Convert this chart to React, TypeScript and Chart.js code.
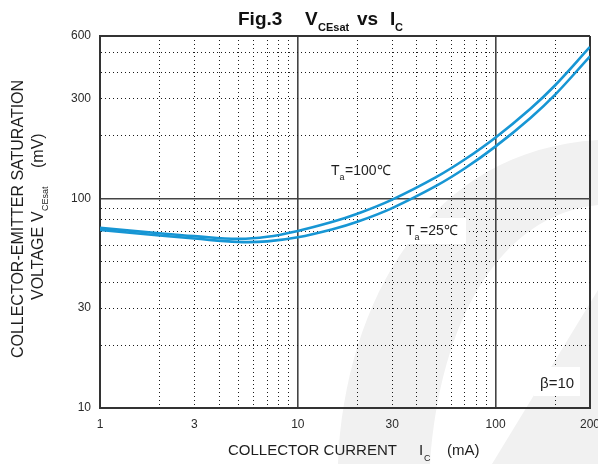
import { useEffect, useRef } from 'react';
import { Chart, registerables } from 'chart.js';

Chart.register(...registerables);

// ---- data ----
const currentMA = [1, 2, 3, 5, 7, 10, 15, 20, 30, 50, 70, 100, 150, 200, 300];
const vce100C = [72.6, 68.4, 66.3, 64.3, 65.8, 70.2, 77.6, 84.8, 99.1, 126.9, 154.5, 196.5, 269.6, 349, 532];
const vce25C = [71.0, 66.8, 64.6, 62.2, 62.6, 65.5, 71.6, 77.7, 90.3, 115.2, 139.9, 178, 243.6, 314.8, 479.7];

const xGridValues = [1, 2, 3, 4, 5, 6, 7, 8, 9, 10, 20, 30, 40, 50, 60, 70, 80, 90, 100, 200, 300];
const xMajorValues = [10, 100];
const xTickValues = [1, 3, 10, 30, 100, 300];
const xTickLabels = ['1', '3', '10', '30', '100', '200'];

const yGridValues = [10, 20, 30, 40, 50, 60, 70, 80, 90, 100, 200, 300, 400, 500, 600];
const yMajorValues = [100];
const yTickValues = [10, 30, 100, 300, 600];
const yTickLabels = ['10', '30', '100', '300', '600'];

const X_MIN = 1;
const X_MAX = 300;
const Y_MIN = 10;
const Y_MAX = 600;

const FONT = '"Liberation Sans", Arial, Helvetica, sans-serif';
const LINE_BLUE = '#1796d4';

type Run = { t: string; x: number; size: number; bold?: boolean; dy?: number };

function drawRuns(ctx: CanvasRenderingContext2D, y: number, runs: Run[], color = '#1e1e1e') {
  ctx.fillStyle = color;
  ctx.textBaseline = 'alphabetic';
  ctx.textAlign = 'left';
  for (const r of runs) {
    ctx.font = `${r.bold ? 'bold ' : ''}${r.size}px ${FONT}`;
    ctx.fillText(r.t, r.x, y + (r.dy || 0));
  }
}

const watermarkPlugin = {
  id: 'watermark',
  beforeDraw(chart: any) {
    const ctx: CanvasRenderingContext2D = chart.ctx;
    ctx.save();
    ctx.fillStyle = '#f1f1f1';
    ctx.beginPath();
    ctx.moveTo(338, 464);
    ctx.bezierCurveTo(345, 300, 430, 150, 598, 140);
    ctx.lineTo(598, 205);
    ctx.bezierCurveTo(500, 215, 440, 320, 430, 464);
    ctx.closePath();
    ctx.fill();
    ctx.beginPath();
    ctx.moveTo(492, 464);
    ctx.lineTo(598, 290);
    ctx.lineTo(598, 464);
    ctx.closePath();
    ctx.fill();
    ctx.restore();
  },
};

const labelBoxesPlugin = {
  id: 'labelBoxes',
  beforeDatasetsDraw(chart: any) {
    const ctx: CanvasRenderingContext2D = chart.ctx;
    ctx.save();
    ctx.fillStyle = '#ffffff';
    ctx.fillRect(328, 157, 71, 27);
    ctx.fillRect(401, 218, 65, 26);
    ctx.fillRect(534, 367, 46, 29);
    ctx.restore();
  },
};

const textPlugin = {
  id: 'texts',
  afterDraw(chart: any) {
    const ctx: CanvasRenderingContext2D = chart.ctx;
    ctx.save();
    drawRuns(ctx, 25, [
      { t: 'Fig.3', x: 238, size: 19, bold: true },
      { t: 'V', x: 305, size: 19, bold: true },
      { t: 'CEsat', x: 318, size: 11, bold: true, dy: 6 },
      { t: 'vs', x: 357, size: 19, bold: true },
      { t: 'I', x: 390, size: 19, bold: true },
      { t: 'C', x: 395, size: 11, bold: true, dy: 6 },
    ], '#111');

    drawRuns(ctx, 455, [
      { t: 'COLLECTOR CURRENT', x: 228, size: 15 },
      { t: 'I', x: 419, size: 15 },
      { t: 'C', x: 424, size: 9, dy: 6 },
      { t: '(mA)', x: 447, size: 15 },
    ]);

    ctx.fillStyle = '#1e1e1e';
    ctx.textBaseline = 'alphabetic';
    ctx.save();
    ctx.translate(23, 219);
    ctx.rotate(-Math.PI / 2);
    ctx.font = `16px ${FONT}`;
    ctx.textAlign = 'center';
    ctx.fillText('COLLECTOR-EMITTER SATURATION', 0, 0);
    ctx.restore();

    ctx.save();
    ctx.translate(43, 300);
    ctx.rotate(-Math.PI / 2);
    ctx.textAlign = 'left';
    const line2: Run[] = [
      { t: 'VOLTAGE', x: 0, size: 16 },
      { t: 'V', x: 78, size: 16 },
      { t: 'CEsat', x: 89, size: 9, dy: 5 },
      { t: '(mV)', x: 132, size: 16 },
    ];
    for (const r of line2) {
      ctx.font = `${r.size}px ${FONT}`;
      ctx.fillText(r.t, r.x, r.dy || 0);
    }
    ctx.restore();

    drawRuns(ctx, 175, [
      { t: 'T', x: 331, size: 14 },
      { t: 'a', x: 339.5, size: 9, dy: 5 },
      { t: '=100\u2103', x: 345, size: 14 },
    ]);
    drawRuns(ctx, 235, [
      { t: 'T', x: 406, size: 14 },
      { t: 'a', x: 414.5, size: 9, dy: 5 },
      { t: '=25\u2103', x: 420, size: 14 },
    ]);
    drawRuns(ctx, 388, [{ t: '\u03b2=10', x: 540, size: 15 }]);
    ctx.restore();
  },
};

function gridOpts(edges: number[], majors: number[]) {
  const kind = (c: any) => {
    const v = c.tick ? c.tick.value : undefined;
    if (v === undefined) return 'none';
    if (edges.includes(v)) return 'edge';
    if (majors.includes(v)) return 'major';
    return 'minor';
  };
  return {
    grid: {
      drawTicks: false,
      color: (c: any) => {
        const k = kind(c);
        return k === 'edge' ? '#333333' : k === 'major' ? '#444444' : '#1a1a1a';
      },
      lineWidth: (c: any) => {
        const k = kind(c);
        return k === 'edge' ? 2 : k === 'major' ? 1.6 : 1;
      },
    },
    border: {
      color: '#333333',
      width: 2,
      dash: (c: any) => (kind(c) === 'minor' ? [1, 3] : []),
    },
  };
}

export default function App() {
  const canvasRef = useRef<HTMLCanvasElement | null>(null);

  useEffect(() => {
    document.body.style.margin = '0';
    const canvas = canvasRef.current;
    if (!canvas) return;

    const xg = gridOpts([X_MIN, X_MAX], xMajorValues);
    const yg = gridOpts([Y_MIN, Y_MAX], yMajorValues);

    const lineStyle = {
      borderColor: LINE_BLUE,
      borderWidth: 2.6,
      pointRadius: 0,
      tension: 0.4,
      fill: false,
    };

    const chart = new Chart(canvas, {
      type: 'line',
      data: {
        datasets: [
          {
            label: 'Ta=100℃',
            data: currentMA.map((x, i) => ({ x, y: vce100C[i] })),
            ...lineStyle,
          },
          {
            label: 'Ta=25℃',
            data: currentMA.map((x, i) => ({ x, y: vce25C[i] })),
            ...lineStyle,
          },
        ],
      },
      options: {
        responsive: false,
        animation: false,
        events: [],
        layout: { padding: { left: 0, right: 8, top: 36, bottom: 0 } },
        plugins: {
          legend: { display: false },
          title: { display: false },
          tooltip: { enabled: false },
        },
        scales: {
          x: {
            type: 'logarithmic',
            min: X_MIN,
            max: X_MAX,
            ...xg,
            afterBuildTicks: (scale: any) => {
              scale.ticks = xGridValues.map((v) => ({ value: v }));
            },
            afterFit: (scale: any) => {
              scale.height = 56;
              scale.paddingLeft = 0;
              scale.paddingRight = 0;
            },
            ticks: {
              autoSkip: false,
              maxRotation: 0,
              minRotation: 0,
              padding: 9,
              color: '#2a2a2a',
              font: { family: FONT, size: 12 },
              callback: (value: any) => {
                const i = xTickValues.indexOf(Number(value));
                return i >= 0 ? xTickLabels[i] : '';
              },
            },
          },
          y: {
            type: 'logarithmic',
            min: Y_MIN,
            max: Y_MAX,
            ...yg,
            afterBuildTicks: (scale: any) => {
              scale.ticks = yGridValues.map((v) => ({ value: v }));
            },
            afterFit: (scale: any) => {
              scale.width = 100;
              scale.paddingTop = 0;
              scale.paddingBottom = 0;
            },
            ticks: {
              autoSkip: false,
              padding: 9,
              color: '#2a2a2a',
              font: { family: FONT, size: 12 },
              callback: (value: any) => {
                const i = yTickValues.indexOf(Number(value));
                return i >= 0 ? yTickLabels[i] : '';
              },
            },
          },
        },
      },
      plugins: [watermarkPlugin, labelBoxesPlugin, textPlugin],
    } as any);

    return () => {
      chart.destroy();
    };
  }, []);

  return (
    <div style={{ width: 598, height: 464, position: 'relative', background: '#fff' }}>
      <canvas ref={canvasRef} width={598} height={464} style={{ display: 'block' }} />
    </div>
  );
}
